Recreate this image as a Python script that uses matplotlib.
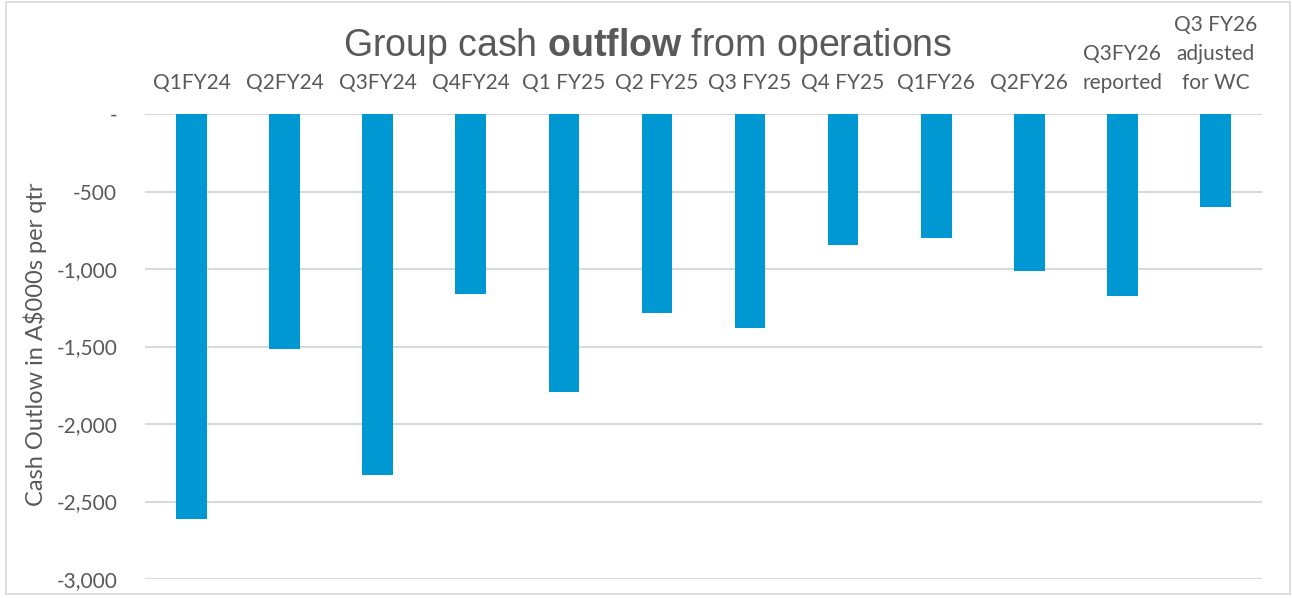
import matplotlib.pyplot as plt
from matplotlib.patches import Rectangle
import matplotlib.ticker as mticker

quarters = ['Q1FY24', 'Q2FY24', 'Q3FY24', 'Q4FY24', 'Q1 FY25', 'Q2 FY25', 'Q3 FY25',
            'Q4 FY25', 'Q1FY26', 'Q2FY26', 'Q3FY26\nreported', 'Q3 FY26\nadjusted\nfor WC']
outflow = [-2613, -1516, -2329, -1161, -1794, -1284, -1381, -845, -800, -1013, -1174, -600]

grey = '#595959'
blue = '#0098d2'

plt.rcParams['font.family'] = ['Lato', 'DejaVu Sans']
plt.rcParams['mathtext.fontset'] = 'custom'
plt.rcParams['mathtext.bf'] = 'Liberation Sans:bold'
plt.rcParams['mathtext.rm'] = 'Liberation Sans'

fig = plt.figure(figsize=(12.92, 5.98), dpi=100)
ax = fig.add_axes([145/1292, 1 - 579/598, (1262 - 145)/1292, (579 - 114)/598])

x = list(range(len(quarters)))
ax.bar(x, outflow, width=0.33, color=blue, zorder=3)

ax.set_xlim(-0.5, len(quarters) - 0.5)
ax.set_ylim(-3000, 0)
ax.yaxis.set_major_locator(mticker.MultipleLocator(500))
ax.yaxis.set_major_formatter(mticker.FuncFormatter(lambda v, p: '-' if v == 0 else f'{v:,.0f}'))
ax.grid(axis='y', color='#d9d9d9', linewidth=1.5, zorder=0)
for s in ax.spines.values():
    s.set_visible(False)

ax.xaxis.tick_top()
ax.set_xticks(x)
ax.set_xticklabels(quarters, fontsize=15, color=grey, linespacing=1.58)
ax.tick_params(axis='x', length=0, pad=15)
ax.tick_params(axis='y', length=0, pad=20, labelsize=15, labelcolor=grey)

ax.set_ylabel('Cash Outlow in A$000s per qtr', fontsize=17, color=grey)
ax.yaxis.set_label_coords((47 - 145) / 1117, (579 - 344) / 465)

fig.text(0.5016, 1 - 46/598, r'Group cash $\mathbf{outflow}$ from operations',
         ha='center', va='center', fontsize=27, color=grey, family='Liberation Sans')

fig.patches.append(Rectangle((6/1292, 4/598), 1284/1292, 592/598, transform=fig.transFigure,
                             fill=False, edgecolor='#d9d9d9', linewidth=1.2))

fig.savefig('out.png', dpi=100)
